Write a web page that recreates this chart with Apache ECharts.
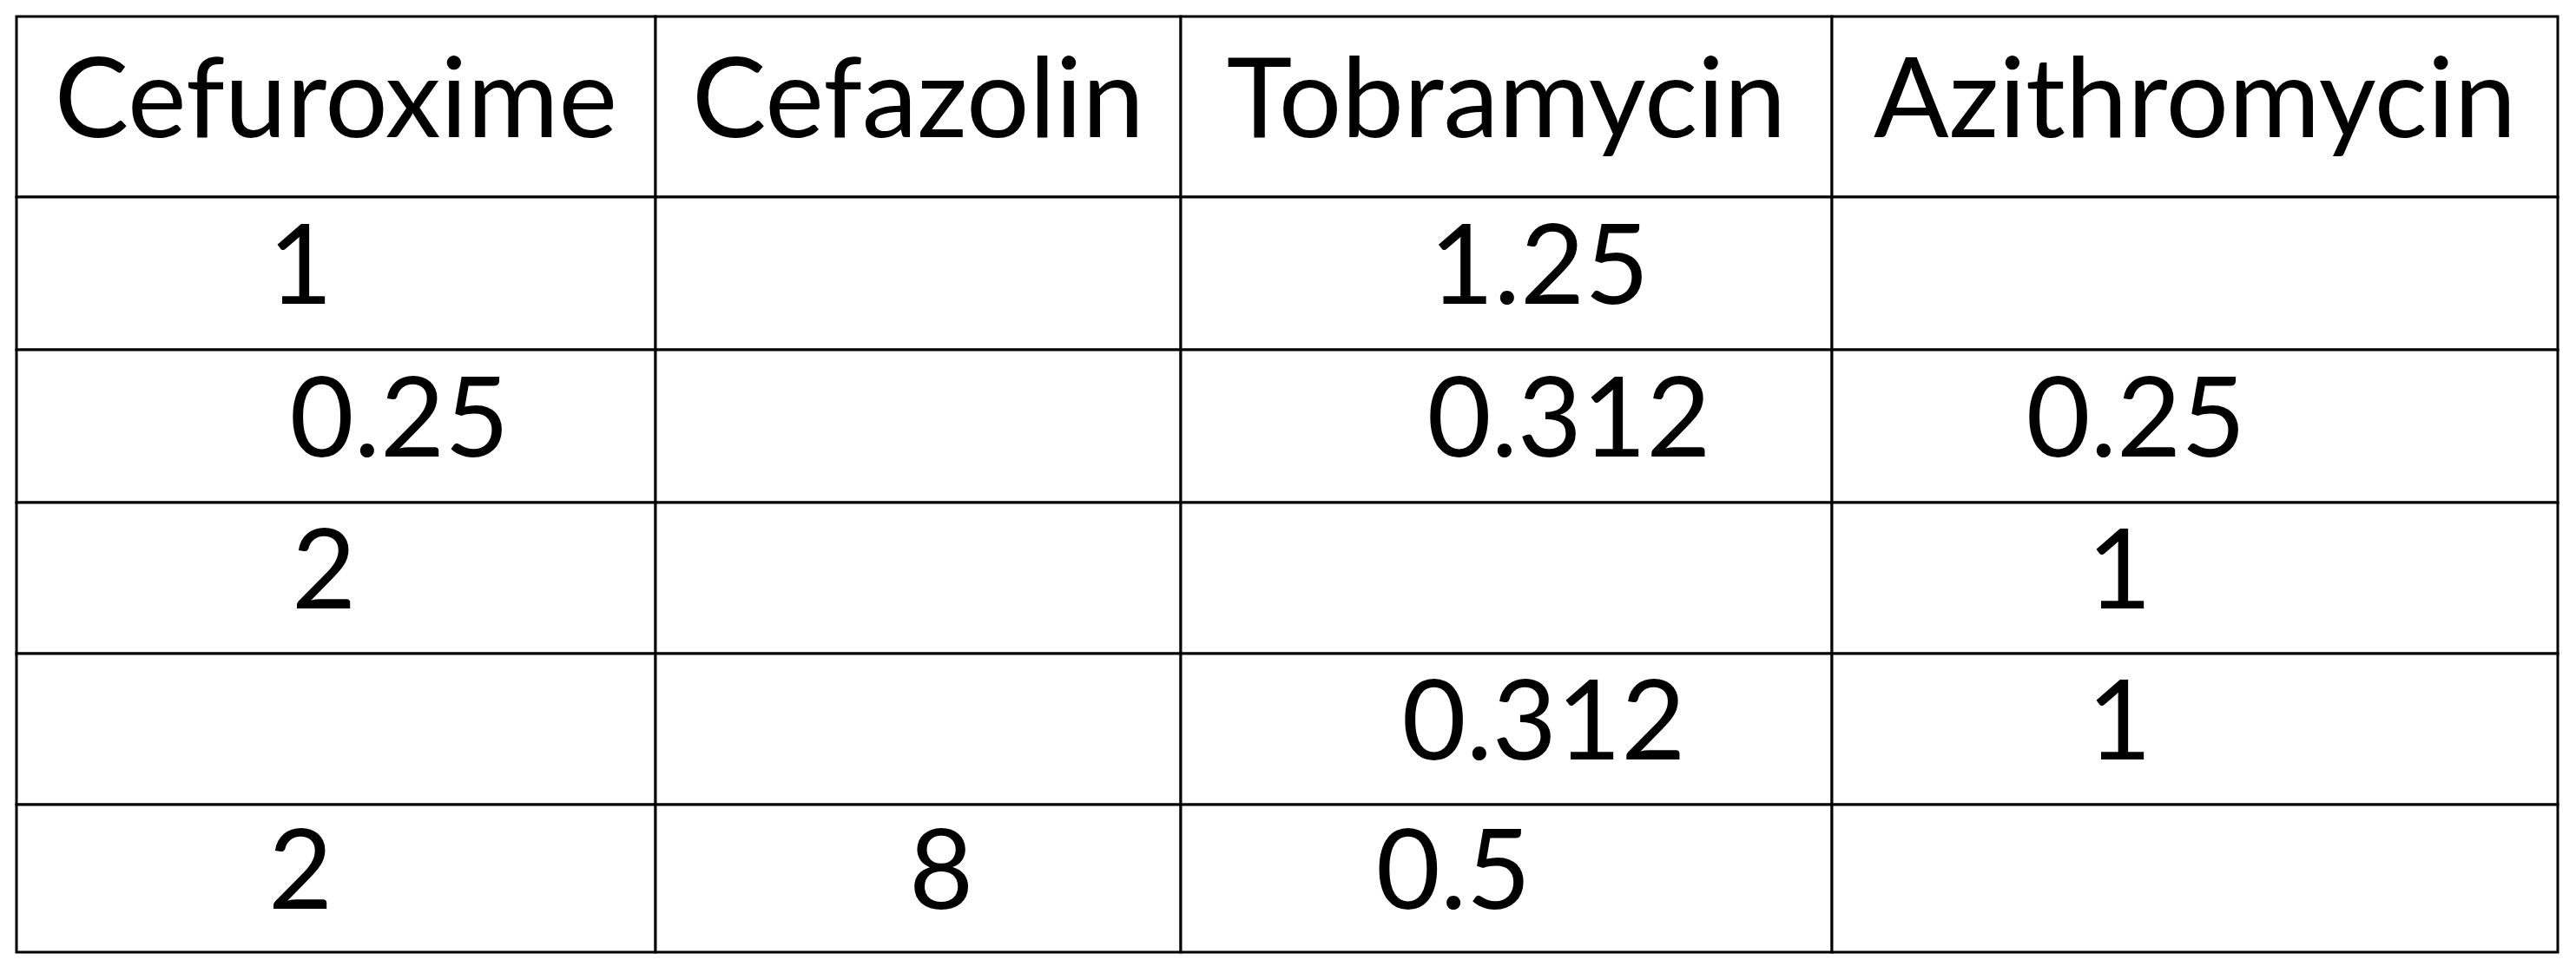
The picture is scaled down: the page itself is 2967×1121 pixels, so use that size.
<!DOCTYPE html>
<html><head><meta charset="utf-8">
<script src="https://cdn.jsdelivr.net/npm/echarts@6/dist/echarts.min.js"></script>
<style>html,body{margin:0;background:#fff}#c{width:2967px;height:1121px}</style>
</head><body><div id="c"></div>
<script>
// table content
const headers = ['Cefuroxime', 'Cefazolin', 'Tobramycin', 'Azithromycin'];
const cefuroxime = ['1', '0.25', '2', null, '2'];
const cefazolin = [null, null, null, null, '8'];
const tobramycin = ['1.25', '0.312', null, '0.312', '0.5'];
const azithromycin = [null, '0.25', '1', '1', null];

// layout (pixel grid units)
const colEdges = [19, 755, 1360, 2110, 2946];
const rowEdges = [19, 227, 403, 579, 753, 927, 1097];
const textX = [
  [346, null, 1773, null],
  [460, null, 1807, 2460],
  [373, null, null, 2441],
  [null, null, 1778, 2441],
  [346, 1084, 1674, null],
];

const cols = [cefuroxime, cefazolin, tobramycin, azithromycin];
const cells = [];
headers.forEach((h, c) => cells.push([c, 0, h, (colEdges[c] + colEdges[c + 1]) / 2]));
for (let r = 0; r < 5; r++) {
  for (let c = 0; c < 4; c++) {
    cells.push([c, r + 1, cols[c][r] || '', textX[r][c] || 0]);
  }
}

const chart = echarts.init(document.getElementById('c'));
chart.setOption({
  animation: false,
  grid: { left: 0, right: 0, top: 0, bottom: 0 },
  xAxis: { type: 'value', min: 0, max: 2967, show: false },
  yAxis: { type: 'value', min: 0, max: 1121, inverse: true, show: false },
  series: [{
    type: 'custom',
    data: cells,
    renderItem: (params, api) => {
      const c = api.value(0), r = api.value(1);
      const p0 = api.coord([colEdges[c], rowEdges[r]]);
      const p1 = api.coord([colEdges[c + 1], rowEdges[r + 1]]);
      const t = api.coord([api.value(3), (rowEdges[r] + rowEdges[r + 1]) / 2 - 6]);
      const children = [{
        type: 'rect',
        shape: { x: p0[0], y: p0[1], width: p1[0] - p0[0], height: p1[1] - p0[1] },
        style: { fill: '#fff', stroke: '#000', lineWidth: 3 },
      }];
      const txt = cells[params.dataIndex][2];
      if (txt) {
        children.push({
          type: 'text',
          x: t[0], y: t[1],
          style: {
            text: txt, fill: '#000', font: '128px Lato, "Open Sans", sans-serif',
            align: 'center', verticalAlign: 'middle',
          },
        });
      }
      return { type: 'group', children };
    },
  }],
});
</script></body></html>
